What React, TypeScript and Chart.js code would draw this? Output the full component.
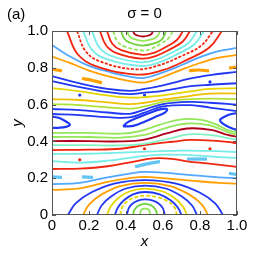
import { useEffect, useRef } from 'react';
import { Chart, registerables } from 'chart.js';
Chart.register(...registerables);

// ---- tick values ----
const X_TICKS = [0, 0.2, 0.4, 0.6, 0.8, 1];
const Y_TICKS = [0, 0.2, 0.4, 0.6, 0.8, 1];

// ---- top vortex arcs (around x≈0.49, y=1) ----
const t1 = [[0.438,1],[0.446,0.984],[0.46,0.976],[0.492,0.97],[0.524,0.976],[0.538,0.984],[0.546,1]];
const t2 = [[0.405,1],[0.418,0.972],[0.44,0.957],[0.492,0.946],[0.547,0.957],[0.57,0.972],[0.584,1]];
const t3 = [[0.373,1],[0.391,0.958],[0.42,0.937],[0.49,0.921],[0.566,0.937],[0.597,0.958],[0.616,1]];
const t4 = [[0.33,1],[0.354,0.944],[0.394,0.915],[0.49,0.894],[0.539,0.905],[0.588,0.931],[0.629,0.96],[0.654,1]];
const t5 = [[0.297,1],[0.326,0.931],[0.374,0.896],[0.49,0.87],[0.555,0.883],[0.621,0.916],[0.675,0.951],[0.708,1]];
const t6 = [[0.259,1],[0.293,0.921],[0.349,0.88],[0.485,0.85],[0.563,0.865],[0.642,0.903],[0.707,0.943],[0.746,1]];
const t7 = [[0.216,1],[0.256,0.91],[0.322,0.864],[0.48,0.83],[0.571,0.847],[0.662,0.89],[0.738,0.935],[0.784,1]];
const t8 = [[0.168,1],[0.214,0.9],[0.291,0.848],[0.475,0.81],[0.579,0.829],[0.683,0.877],[0.77,0.928],[0.822,1]];
const t9 = [[0.135,1],[0.182,0.89],[0.261,0.834],[0.45,0.792],[0.576,0.813],[0.702,0.865],[0.807,0.921],[0.87,1]];
const t10 = [[0.081,1],[0.138,0.875],[0.233,0.81],[0.46,0.763],[0.598,0.787],[0.735,0.846],[0.85,0.91],[0.919,1]];

// ---- upper open contours ----
const u1 = [[0,0.924],[0.05,0.89],[0.1,0.86],[0.2,0.81],[0.3,0.78],[0.42,0.752],[0.5,0.745],[0.6,0.775],[0.7,0.815],[0.8,0.858],[0.9,0.89],[1,0.908]];
const u2 = [[0,0.861],[0.1,0.825],[0.2,0.785],[0.3,0.755],[0.42,0.728],[0.5,0.72],[0.6,0.75],[0.7,0.79],[0.8,0.826],[0.9,0.855],[1,0.87]];
const u3 = [[0,0.755],[0.15,0.715],[0.3,0.685],[0.42,0.675],[0.5,0.685],[0.6,0.705],[0.75,0.742],[0.854,0.76],[1,0.778]];
const u4 = [[0,0.728],[0.15,0.695],[0.3,0.668],[0.42,0.657],[0.5,0.665],[0.6,0.675],[0.75,0.7],[0.854,0.708],[1,0.716]];
const u5 = [[0,0.69],[0.15,0.672],[0.3,0.65],[0.42,0.638],[0.5,0.64],[0.6,0.65],[0.75,0.672],[0.854,0.685],[1,0.69]];
const u6 = [[0,0.63],[0.15,0.625],[0.3,0.612],[0.42,0.603],[0.5,0.61],[0.6,0.627],[0.75,0.648],[0.854,0.66],[1,0.66]];
const u7 = [[0,0.603],[0.15,0.597],[0.3,0.585],[0.42,0.578],[0.5,0.59],[0.6,0.615],[0.75,0.63],[0.854,0.633],[1,0.63]];
const u8 = [[0,0.576],[0.15,0.57],[0.3,0.557],[0.42,0.55],[0.5,0.573],[0.6,0.603],[0.75,0.615],[0.854,0.61],[1,0.6]];
const u9 = [[0,0.549],[0.15,0.543],[0.3,0.532],[0.42,0.53],[0.5,0.556],[0.6,0.59],[0.75,0.597],[0.854,0.584],[1,0.565]];

// ---- closed cells in the middle band ----
const eLeft = [[0,0.535],[0.04,0.527],[0.075,0.508],[0.097,0.49],[0.075,0.479],[0.035,0.474],[0,0.474]];
const eMid = [[0.384,0.482],[0.41,0.505],[0.465,0.53],[0.53,0.556],[0.59,0.575],[0.622,0.576],[0.612,0.558],[0.557,0.532],[0.503,0.508],[0.44,0.484],[0.384,0.482]];
const eRight = [[1,0.554],[0.96,0.546],[0.925,0.53],[0.908,0.516],[0.925,0.495],[0.965,0.474],[1,0.462]];

// ---- lower open contours ----
const l1 = [[0,0.446],[0.2,0.446],[0.37,0.442],[0.47,0.455],[0.58,0.49],[0.7,0.52],[0.8,0.518],[0.88,0.495],[0.95,0.462],[1,0.448]];
const l2 = [[0,0.424],[0.2,0.424],[0.37,0.42],[0.5,0.435],[0.6,0.468],[0.72,0.496],[0.85,0.488],[0.95,0.45],[1,0.437]];
const l3 = [[0,0.402],[0.2,0.402],[0.37,0.4],[0.5,0.41],[0.62,0.443],[0.73,0.47],[0.86,0.463],[0.95,0.435],[1,0.425]];
const l4 = [[0,0.38],[0.2,0.38],[0.37,0.378],[0.5,0.387],[0.63,0.414],[0.74,0.438],[0.87,0.433],[0.95,0.418],[1,0.41]];
const l5 = [[0,0.353],[0.2,0.355],[0.37,0.36],[0.5,0.38],[0.65,0.398],[0.75,0.408],[0.87,0.404],[0.95,0.397],[1,0.39]];
const l6 = [[0,0.332],[0.2,0.333],[0.4,0.34],[0.55,0.346],[0.7,0.35],[0.85,0.348],[1,0.342]];
const l7 = [[0,0.293],[0.15,0.285],[0.3,0.295],[0.45,0.315],[0.6,0.328],[0.75,0.325],[0.9,0.315],[1,0.31]];
const l8 = [[0,0.25],[0.15,0.252],[0.3,0.265],[0.45,0.292],[0.55,0.308],[0.65,0.305],[0.73,0.292],[0.84,0.28],[1,0.262]];
const lo1 = [[0,0.168],[0.15,0.175],[0.3,0.205],[0.42,0.225],[0.5,0.234],[0.6,0.23],[0.75,0.217],[0.9,0.205],[1,0.2]];
const lo2 = [[0,0.136],[0.15,0.145],[0.3,0.18],[0.42,0.2],[0.5,0.207],[0.6,0.2],[0.75,0.187],[0.9,0.175],[1,0.17]];

// ---- bottom vortex arcs (around x≈0.5, y=0) ----
const b1 = [[0.476,0],[0.478,0.016],[0.484,0.03],[0.503,0.035],[0.522,0.03],[0.528,0.016],[0.53,0]];
const b2 = [[0.438,0],[0.4445,0.026],[0.4575,0.043],[0.477,0.055],[0.503,0.06],[0.529,0.055],[0.5485,0.043],[0.5615,0.026],[0.568,0]];
const b3 = [[0.405,0],[0.415,0.037],[0.434,0.061],[0.464,0.078],[0.503,0.085],[0.546,0.078],[0.578,0.061],[0.599,0.037],[0.61,0]];
const b4 = [[0.368,0],[0.3815,0.046],[0.4085,0.075],[0.449,0.096],[0.503,0.105],[0.572,0.096],[0.624,0.075],[0.659,0.046],[0.676,0]];
const b5 = [[0.34,0],[0.356,0.041],[0.389,0.08],[0.438,0.1125],[0.503,0.125],[0.582,0.1125],[0.641,0.08],[0.68,0.041],[0.7,0]];
const b6 = [[0.297,0],[0.318,0.047],[0.359,0.092],[0.421,0.129],[0.503,0.143],[0.594,0.129],[0.662,0.092],[0.707,0.047],[0.73,0]];
const b7 = [[0.243,0],[0.269,0.053],[0.321,0.102],[0.399,0.144],[0.503,0.16],[0.615,0.144],[0.7,0.102],[0.756,0.053],[0.784,0]];
const b8 = [[0.168,0],[0.2015,0.058],[0.2685,0.112],[0.369,0.1575],[0.503,0.175],[0.639,0.1575],[0.741,0.112],[0.809,0.058],[0.843,0]];
const b9 = [[0.086,0],[0.128,0.063],[0.211,0.122],[0.336,0.171],[0.503,0.19],[0.671,0.171],[0.798,0.122],[0.882,0.063],[0.924,0]];

// ---- short contour pieces ----
const od1 = [[0,0.793],[0.054,0.783]];
const od2 = [[0.162,0.742],[0.216,0.732],[0.27,0.718]];
const od3 = [[0.741,0.785],[0.795,0.788],[0.849,0.783]];
const od4 = [[0.957,0.799],[1,0.804]];
const cd1 = [[0,0.207],[0.054,0.205]];
const cd2 = [[0.162,0.207],[0.222,0.204]];
const cd3 = [[0.449,0.262],[0.515,0.278],[0.584,0.29]];
const cd4 = [[0.73,0.304],[0.838,0.304]];
const cd5 = [[0.957,0.226],[1,0.22]];

// ---- isolated points ----
const blueDots = [[0.15,0.652],[0.5,0.652],[0.854,0.723]];
const redDots = [[0.15,0.30],[0.5,0.36],[0.854,0.36]];

const BLUE = '#2038f4';
const LIME = '#94e65a';
const GREEN = '#6cd23c';
const YGREEN = '#aee23a';
const YELLOW = '#e4d400';
const GOLD = '#f0c000';
const ORANGE = '#ffa000';
const RED = '#f2260f';
const CYAN = '#76ece6';
const LBLUE = '#52a8ff';
const DRED = '#b2001c';
const AQUA = '#84f0c4';
const CDASH = '#62c4f0';

type Curve = { pts: number[][]; color: string; width?: number; dash?: number[] };

const curves: Curve[] = [
  { pts: t1, color: DRED }, { pts: t2, color: LIME }, { pts: t3, color: GREEN },
  { pts: t4, color: LIME, dash: [4, 2] }, { pts: t5, color: RED }, { pts: t6, color: RED },
  { pts: t7, color: CYAN }, { pts: t8, color: CYAN }, { pts: t9, color: RED, dash: [3, 1.5] },
  { pts: t10, color: RED },
  { pts: u1, color: LBLUE }, { pts: u2, color: ORANGE }, { pts: u3, color: BLUE }, { pts: u4, color: BLUE },
  { pts: u5, color: YELLOW }, { pts: u6, color: GOLD }, { pts: u7, color: YGREEN }, { pts: u8, color: BLUE },
  { pts: u9, color: BLUE },
  { pts: eLeft, color: BLUE, width: 2.2 }, { pts: eMid, color: BLUE, width: 2.2 }, { pts: eRight, color: BLUE, width: 2.2 },
  { pts: l1, color: LIME }, { pts: l2, color: LIME }, { pts: l3, color: DRED }, { pts: l4, color: AQUA },
  { pts: l5, color: RED }, { pts: l6, color: CYAN }, { pts: l7, color: CYAN }, { pts: l8, color: RED },
  { pts: lo1, color: LBLUE }, { pts: lo2, color: ORANGE },
  { pts: b1, color: LIME }, { pts: b2, color: GREEN }, { pts: b3, color: BLUE }, { pts: b4, color: YELLOW, dash: [4, 2] },
  { pts: b5, color: BLUE }, { pts: b6, color: YELLOW }, { pts: b7, color: BLUE }, { pts: b8, color: ORANGE },
  { pts: b9, color: BLUE },
  { pts: od1, color: ORANGE, width: 3.2 }, { pts: od2, color: ORANGE, width: 3.2 }, { pts: od3, color: ORANGE, width: 3.2 },
  { pts: od4, color: ORANGE, width: 3.2 },
  { pts: cd1, color: CDASH, width: 3.2 }, { pts: cd2, color: CDASH, width: 3.2 }, { pts: cd3, color: CDASH, width: 3.2 },
  { pts: cd4, color: CDASH, width: 3.2 }, { pts: cd5, color: CDASH, width: 3.2 },
];

const FONT = 'Liberation Sans, Arial, Helvetica, sans-serif';

const deco = {
  id: 'deco',
  afterDraw(chart: any) {
    const { ctx, chartArea, scales } = chart;
    const { left, right, top, bottom } = chartArea;
    ctx.save();
    ctx.strokeStyle = '#555';
    ctx.lineWidth = 1;
    ctx.strokeRect(left + 0.5, top + 0.5, right - left - 1, bottom - top - 1);
    ctx.beginPath();
    for (const v of X_TICKS) {
      const px = Math.round(scales.x.getPixelForValue(v)) + 0.5;
      ctx.moveTo(px, bottom); ctx.lineTo(px, bottom - 4);
      ctx.moveTo(px, top); ctx.lineTo(px, top + 4);
    }
    for (const v of Y_TICKS) {
      const py = Math.round(scales.y.getPixelForValue(v)) + 0.5;
      ctx.moveTo(left, py); ctx.lineTo(left + 4, py);
      ctx.moveTo(right, py); ctx.lineTo(right - 4, py);
    }
    ctx.stroke();
    ctx.fillStyle = '#000';
    ctx.font = `15px ${FONT}`;
    ctx.textAlign = 'left';
    ctx.textBaseline = 'alphabetic';
    ctx.fillText('(a)', 7, 19);
    ctx.textAlign = 'center';
    ctx.fillText('σ = 0', (left + right) / 2, 18);
    ctx.font = `italic 15px ${FONT}`;
    ctx.fillText('x', (left + right) / 2, 246);
    ctx.translate(22, (top + bottom) / 2);
    ctx.rotate(-Math.PI / 2);
    ctx.fillText('y', 0, 0);
    ctx.restore();
  },
};

export default function App() {
  const ref = useRef<HTMLCanvasElement>(null);
  useEffect(() => {
    const canvas = ref.current;
    if (!canvas) return;
    const datasets: any[] = curves.map((c) => ({
      data: c.pts.map(([x, y]) => ({ x, y })),
      showLine: true,
      borderColor: c.color,
      borderWidth: c.width ?? 1.8,
      borderDash: c.dash ?? [],
      pointRadius: 0,
      tension: 0.4,
      fill: false,
      clip: 0,
    }));
    datasets.push({
      data: blueDots.map(([x, y]) => ({ x, y })),
      showLine: false, pointRadius: 1.6, pointBorderWidth: 0, pointBackgroundColor: BLUE, clip: 0,
    });
    datasets.push({
      data: redDots.map(([x, y]) => ({ x, y })),
      showLine: false, pointRadius: 1.6, pointBorderWidth: 0, pointBackgroundColor: RED, clip: 0,
    });
    const font = { family: FONT, size: 15 };
    const chart = new Chart(canvas, {
      type: 'scatter',
      data: { datasets },
      options: {
        animation: false,
        responsive: false,
        maintainAspectRatio: false,
        layout: { padding: { left: 0, right: 29, top: 31, bottom: 0 } },
        plugins: { legend: { display: false }, tooltip: { enabled: false }, title: { display: false } },
        scales: {
          x: {
            type: 'linear', min: 0, max: 1,
            ticks: { stepSize: 0.2, font, color: '#000', padding: 2, maxRotation: 0, autoSkip: false },
            grid: { display: false, drawTicks: false },
            border: { display: false },
            afterFit: (s: any) => { s.height = 39; },
          },
          y: {
            type: 'linear', min: 0, max: 1,
            ticks: { stepSize: 0.2, font, color: '#000', padding: 4, autoSkip: false },
            grid: { display: false, drawTicks: false },
            border: { display: false },
            afterFit: (s: any) => { s.width = 52; },
          },
        },
      } as any,
      plugins: [deco],
    });
    return () => chart.destroy();
  }, []);
  return (
    <div style={{ position: 'absolute', left: 0, top: 0, width: 266, height: 254 }}>
      <canvas ref={ref} width={266} height={254} style={{ width: 266, height: 254 }} />
    </div>
  );
}
